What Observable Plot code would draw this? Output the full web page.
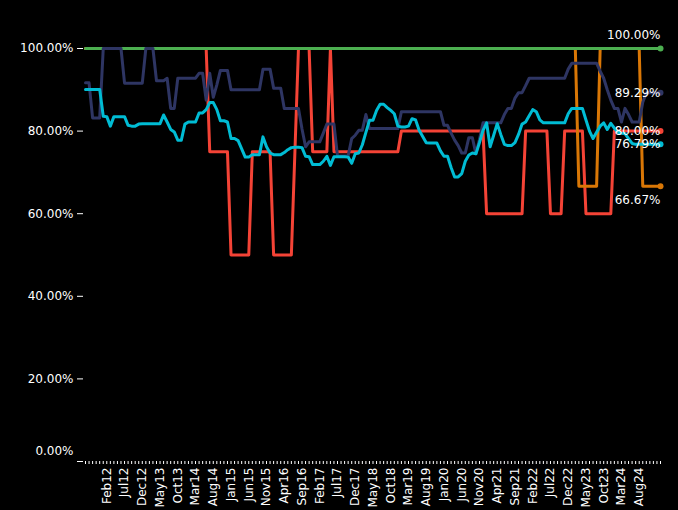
<!DOCTYPE html>
<html><head><meta charset="utf-8">
<script src="https://cdn.jsdelivr.net/npm/d3@7"></script>
<script src="https://cdn.jsdelivr.net/npm/@observablehq/plot@0.6"></script>
<style>
html,body{margin:0;padding:0;background:#000;}
</style>
</head><body><div id="chart"></div>
<script>
// Monthly categories: Aug 2011 .. Feb 2025
const firstMonth = "2011-08-01";
const lastMonth = "2025-02-01";
const months = d3.utcMonth
  .range(new Date(firstMonth), d3.utcMonth.offset(new Date(lastMonth), 1))
  .map(d3.utcFormat("%b%y"));

const tickLabels = ["Feb12","Jul12","Dec12","May13","Oct13","Mar14","Aug14","Jan15","Jun15","Nov15",
  "Apr16","Sep16","Feb17","Jul17","Dec17","May18","Oct18","Mar19","Aug19","Jan20","Jun20","Nov20",
  "Apr21","Sep21","Feb22","Jul22","Dec22","May23","Oct23","Mar24","Aug24"];
const yTicks = [0, 20, 40, 60, 80, 100];

const seriesGreen = [
  100,100,100,100,100,100,100,100,100,100,
  100,100,100,100,100,100,100,100,100,100,
  100,100,100,100,100,100,100,100,100,100,
  100,100,100,100,100,100,100,100,100,100,
  100,100,100,100,100,100,100,100,100,100,
  100,100,100,100,100,100,100,100,100,100,
  100,100,100,100,100,100,100,100,100,100,
  100,100,100,100,100,100,100,100,100,100,
  100,100,100,100,100,100,100,100,100,100,
  100,100,100,100,100,100,100,100,100,100,
  100,100,100,100,100,100,100,100,100,100,
  100,100,100,100,100,100,100,100,100,100,
  100,100,100,100,100,100,100,100,100,100,
  100,100,100,100,100,100,100,100,100,100,
  100,100,100,100,100,100,100,100,100,100,
  100,100,100,100,100,100,100,100,100,100,
  100,100,100
];

const seriesRed = [
  100,100,100,100,100,100,100,100,100,100,
  100,100,100,100,100,100,100,100,100,100,
  100,100,100,100,100,100,100,100,100,100,
  100,100,100,100,100,75,75,75,75,75,
  75,50,50,50,50,50,50,75,75,75,
  75,75,75,50,50,50,50,50,50,75,
  100,100,100,100,75,75,75,75,75,100,
  75,75,75,75,75,75,75,75,75,75,
  75,75,75,75,75,75,75,75,75,80,
  80,80,80,80,80,80,80,80,80,80,
  80,80,80,80,80,80,80,80,80,80,
  80,80,80,60,60,60,60,60,60,60,
  60,60,60,60,80,80,80,80,80,80,
  80,60,60,60,60,80,80,80,80,80,
  80,60,60,60,60,60,60,60,60,80,
  80,80,80,80,80,80,80,80,80,80,
  80,80,80
];

const seriesNavy = [
  91.7,91.7,83.2,83.2,83.2,100,100,100,100,100,
  100,91.6,91.6,91.6,91.6,91.6,91.6,100,100,100,
  92.2,92.2,92.2,92.8,85.5,85.5,92.8,92.8,92.8,92.8,
  92.8,92.8,94,94,87.5,94,88.2,91.2,94.7,94.7,
  94.7,90,90,90,90,90,90,90,90,90,
  95,95,95,90.4,90.4,90.4,85.5,85.5,85.5,85.5,
  85.5,80.5,76.2,77.4,77.4,77.4,77.4,79.5,81.7,81.7,
  81.7,74,74,74,74,78.2,79,80.2,80.2,84,
  80.6,80.6,80.6,80.6,80.6,80.6,80.6,80.6,80.6,84.7,
  84.7,84.7,84.7,84.7,84.7,84.7,84.7,84.7,84.7,84.7,
  84.7,81.4,81.4,79.5,77.8,76.5,74.7,74.7,78.4,78.4,
  74.5,78,82,82,82,82,82,82,84,85.5,
  85.5,88,89.3,89.3,91,92.8,92.8,92.8,92.8,92.8,
  92.8,92.8,92.8,92.8,92.8,92.8,95,96.4,96.4,96.4,
  96.4,96.4,96.4,96.4,96.4,94.5,92.8,90,87.5,85.5,
  85.5,82.2,85.5,84,82.2,82.2,82.2,87,89.29,89.29,
  89.29,89.29,89.29
];

const seriesCyan = [
  90.1,90.1,90.1,90.1,90.1,83.6,83.5,81.2,83.5,83.5,
  83.5,83.5,81.4,81.2,81.2,81.7,81.8,81.8,81.8,81.8,
  81.8,81.8,83.9,82.2,80.4,79.8,77.8,77.8,81.7,82.2,
  82.2,82.2,84.4,84.4,85.2,86.9,86.9,85.2,82.5,82.5,
  82.2,78.2,78.2,77.7,75.7,73.7,73.7,74.3,74.3,74.3,
  78.6,76.2,74.7,74.3,74.3,74.3,74.8,75.5,76,76.1,
  76.1,76,73.9,73.8,71.9,71.9,71.9,72.7,73.9,71.7,
  73.8,73.8,73.8,73.8,73.7,72.2,74.5,74.7,76.7,79.7,
  82.6,82.6,85,86.5,86.5,85.7,85,84.2,81.2,81,
  81,81.2,83,82.7,80.2,78.7,77.2,77.1,77.1,77.1,
  75.2,73.9,73.9,71.2,68.9,68.9,69.7,72.7,74.2,74.7,
  74.5,77.2,80.2,82,76.2,79,81.8,79.2,76.8,76.5,
  76.5,77.2,79.2,81.7,82.2,83.7,85.2,84.7,82.7,82,
  82,82,82,82,82,82,84.2,85.5,85.5,85.5,
  85.5,82.7,80,78.2,79.7,81.2,82,80.4,81.9,80.7,
  79.7,79.5,79.4,78.2,77,76.79,76.79,76.79,76.79,76.79,
  76.79,76.79,76.79
];

const seriesOrange = [
  100,100,100,100,100,100,100,100,100,100,
  100,100,100,100,100,100,100,100,100,100,
  100,100,100,100,100,100,100,100,100,100,
  100,100,100,100,100,100,100,100,100,100,
  100,100,100,100,100,100,100,100,100,100,
  100,100,100,100,100,100,100,100,100,100,
  100,100,100,100,100,100,100,100,100,100,
  100,100,100,100,100,100,100,100,100,100,
  100,100,100,100,100,100,100,100,100,100,
  100,100,100,100,100,100,100,100,100,100,
  100,100,100,100,100,100,100,100,100,100,
  100,100,100,100,100,100,100,100,100,100,
  100,100,100,100,100,100,100,100,100,100,
  100,100,100,100,100,100,100,100,100,66.67,
  66.67,66.67,66.67,66.67,66.67,100,100,100,100,100,
  100,100,100,100,100,100,100,66.67,66.67,66.67,
  66.67,66.67,66.67
];

// Drawing order (first drawn = bottom)
const seriesOrder = ["S-red", "S-orange", "S-green", "S-navy", "S-cyan"];
const seriesValues = {"S-red": seriesRed, "S-orange": seriesOrange, "S-green": seriesGreen, "S-navy": seriesNavy, "S-cyan": seriesCyan};
const seriesColors = {"S-red": "#f44336", "S-orange": "#d97706", "S-green": "#4caf50", "S-navy": "#2e3563", "S-cyan": "#00bcd4"};

const rows = seriesOrder.flatMap(k => seriesValues[k].map((v, i) => ({month: months[i], value: v, series: k})));
const lastRows = seriesOrder.map(k => ({month: months[months.length - 1], value: seriesValues[k][seriesValues[k].length - 1], series: k}));
const tickSet = new Set(tickLabels);
const pct = v => v.toFixed(2) + "%";

const chart = Plot.plot({
  width: 678,
  height: 510,
  marginTop: 48,
  marginRight: 18,
  marginBottom: 49,
  marginLeft: 85,
  style: {background: "#000", color: "#fff", fontFamily: "'DejaVu Sans', sans-serif", fontSize: "12px"},
  x: {type: "point", domain: months, padding: 0},
  y: {domain: [0, 100]},
  color: {type: "categorical", domain: seriesOrder, range: seriesOrder.map(k => seriesColors[k])},
  marks: [
    Plot.axisY({ticks: yTicks, tickSize: 6, tickPadding: 4, dx: -2, label: null,
      tickFormat: d => d === 0 ? "" : pct(d)}),
    Plot.text([pct(0)], {text: d => d, frameAnchor: "bottom-left", dx: -12, dy: -7, textAnchor: "end", fill: "#fff"}),
    Plot.axisX({ticks: months, tickSize: 3, tickPadding: 3, tickRotate: -90, label: null,
      tickFormat: d => tickSet.has(d) ? d : ""}),
    Plot.line(rows, {x: "month", y: "value", z: "series", stroke: "series", strokeWidth: 3}),
    Plot.dot(lastRows, {x: "month", y: "value", fill: "series", r: 3}),
    Plot.text(lastRows.filter(d => d.series === "S-green"), {x: "month", y: "value", text: d => pct(d.value), textAnchor: "end", dy: -13, fill: "#fff"}),
    Plot.text(lastRows.filter(d => d.series === "S-orange"), {x: "month", y: "value", text: d => pct(d.value), textAnchor: "end", dy: 14, fill: "#fff"}),
    Plot.text(lastRows.filter(d => d.series !== "S-green" && d.series !== "S-orange"), {x: "month", y: "value", text: d => pct(d.value), textAnchor: "end", fill: "#fff"})
  ]
});
document.getElementById("chart").appendChild(chart);
</script>
</body></html>
